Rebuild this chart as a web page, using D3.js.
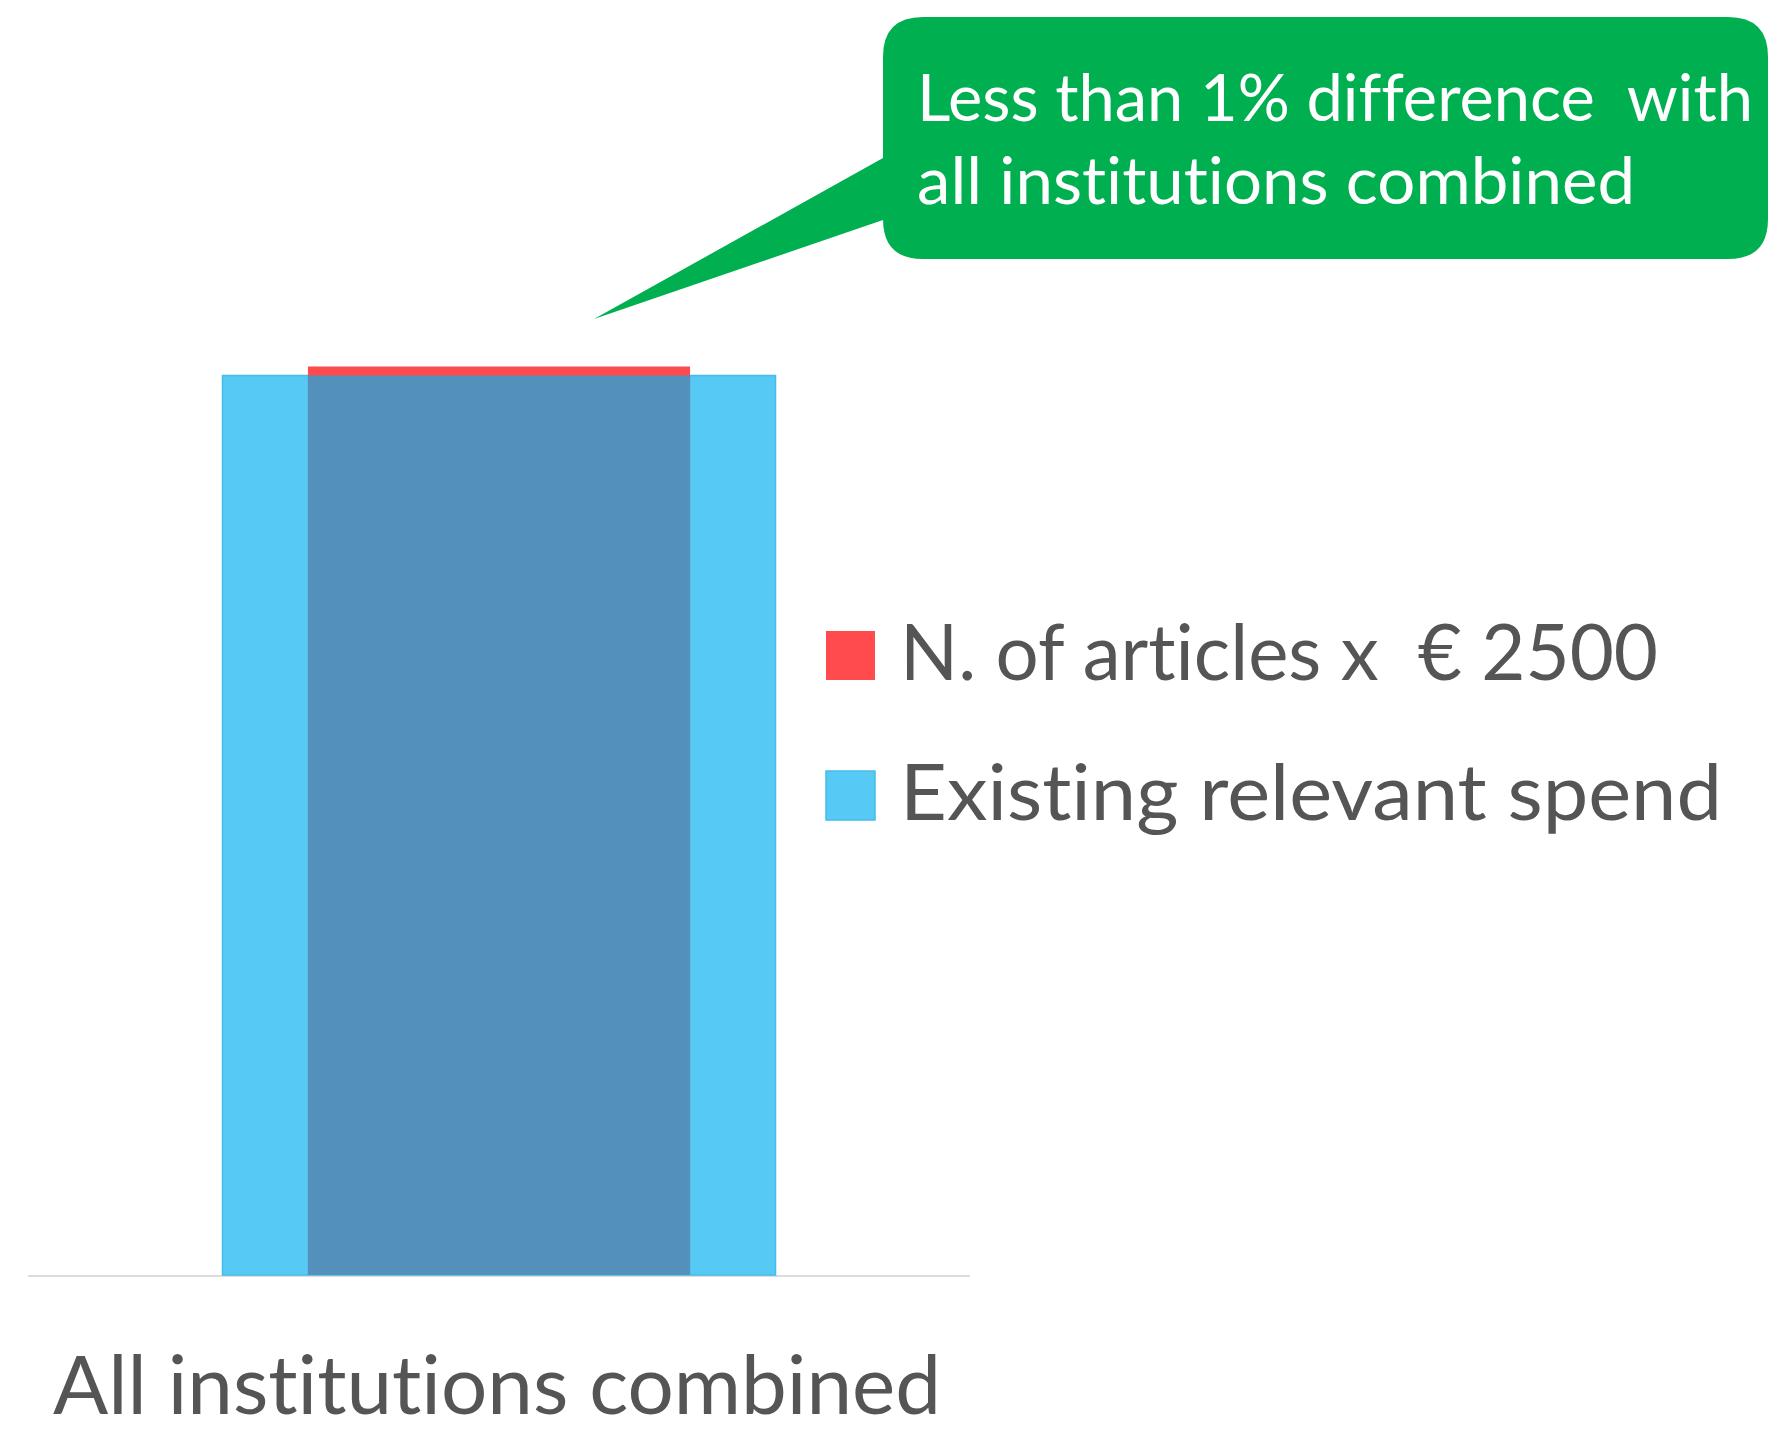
<!DOCTYPE html>
<html>
<head>
<meta charset="utf-8">
<script src="https://cdn.jsdelivr.net/npm/d3@7"></script>
<style>
  html, body { margin: 0; padding: 0; background: #fff; }
  svg { display: block; }
  text { font-family: "Lato", "Open Sans", sans-serif; font-variant-ligatures: none; font-feature-settings: "liga" 0, "clig" 0; white-space: pre; }
</style>
</head>
<body>
<svg id="chart" width="1768" height="1440"></svg>
<script>
// ---- data ----
const categories = ["All institutions combined"];
const existingSpend = [100];     // Existing relevant spend (relative)
const articlesCost = [101];      // N. of articles x € 2500 (relative, <1% diff)
const legendLabels = ["N. of articles x  \u20AC 2500", "Existing relevant spend"];
const calloutLines = ["Less than 1% difference  with", "all institutions combined"];

// ---- layout ----
const svg = d3.select("#chart");
const baseY = 1275, topY = 375.5;
const y = d3.scaleLinear().domain([0, 100]).range([baseY, topY]);
const x = d3.scaleBand().domain(categories).range([28, 970]).paddingInner(0).paddingOuter(0.3517);
const inner = 0.691; // narrow bar width share

const colBlue = "#56C9F4", colBlueStroke = "#45BCEB", colRed = "#FF4B4D", colOverlap = "#5490BC";

// baseline
svg.append("line").attr("x1", 28).attr("x2", 970).attr("y1", baseY + 1).attr("y2", baseY + 1)
  .attr("stroke", "#dcdcdc").attr("stroke-width", 2);

const g = svg.append("g");
categories.forEach((c, i) => {
  const bx = x(c), bw = x.bandwidth();
  // wide bar: existing spend
  g.append("rect").attr("x", bx).attr("y", y(existingSpend[i]))
    .attr("width", bw).attr("height", y(0) - y(existingSpend[i]))
    .attr("fill", colBlue).attr("stroke", colBlueStroke).attr("stroke-width", 1.5);
  // narrow bar: articles x 2500
  const nw = bw * inner, nx = bx + (bw - nw) / 2;
  g.append("rect").attr("x", nx).attr("y", y(articlesCost[i]))
    .attr("width", nw).attr("height", y(0) - y(articlesCost[i]))
    .attr("fill", colRed);
  // overlap region
  const m = Math.min(existingSpend[i], articlesCost[i]);
  g.append("rect").attr("x", nx).attr("y", y(m))
    .attr("width", nw).attr("height", y(0) - y(m))
    .attr("fill", colOverlap);
  // category label
  svg.append("text").attr("x", 497).attr("y", 1414)
    .attr("text-anchor", "middle").attr("fill", "#555555")
    .attr("font-size", 82).attr("textLength", 888).attr("lengthAdjust", "spacingAndGlyphs")
    .text(c);
});

// legend
const legCols = [colRed, colBlue];
const legY = [631, 771];
legendLabels.forEach((l, i) => {
  svg.append("rect").attr("x", 826).attr("y", legY[i]).attr("width", 49).attr("height", 49)
    .attr("fill", legCols[i]).attr("stroke", i === 1 ? colBlueStroke : "none").attr("stroke-width", 1.5);
  svg.append("text").attr("x", 900).attr("y", legY[i] + 49).attr("fill", "#555555")
    .attr("xml:space", "preserve")
    .attr("font-size", 78)
    .attr("textLength", i === 0 ? 758 : 822).attr("lengthAdjust", "spacingAndGlyphs")
    .text(l);
});

// callout
const bx0 = 883, by0 = 17, bx1 = 1768, by1 = 259, r = 40;
const tip = [594, 319];
const p = d3.path();
p.moveTo(bx0 + r, by0);
p.lineTo(bx1 - r, by0);
p.quadraticCurveTo(bx1, by0, bx1, by0 + r);
p.lineTo(bx1, by1 - r);
p.quadraticCurveTo(bx1, by1, bx1 - r, by1);
p.lineTo(bx0 + r, by1);
p.quadraticCurveTo(bx0, by1, bx0, by1 - r);
p.lineTo(bx0, 220);
p.lineTo(tip[0], tip[1]);
p.lineTo(bx0, 158);
p.lineTo(bx0, by0 + r);
p.quadraticCurveTo(bx0, by0, bx0 + r, by0);
p.closePath();
svg.append("path").attr("d", p.toString()).attr("fill", "#00AF50");

const cy = [121, 204], cw = [836, 718];
calloutLines.forEach((t, i) => {
  svg.append("text").attr("x", 917).attr("y", cy[i]).attr("fill", "#ffffff")
    .attr("xml:space", "preserve")
    .attr("font-size", 65).attr("textLength", cw[i]).attr("lengthAdjust", "spacingAndGlyphs")
    .text(t);
});
</script>
</body>
</html>
